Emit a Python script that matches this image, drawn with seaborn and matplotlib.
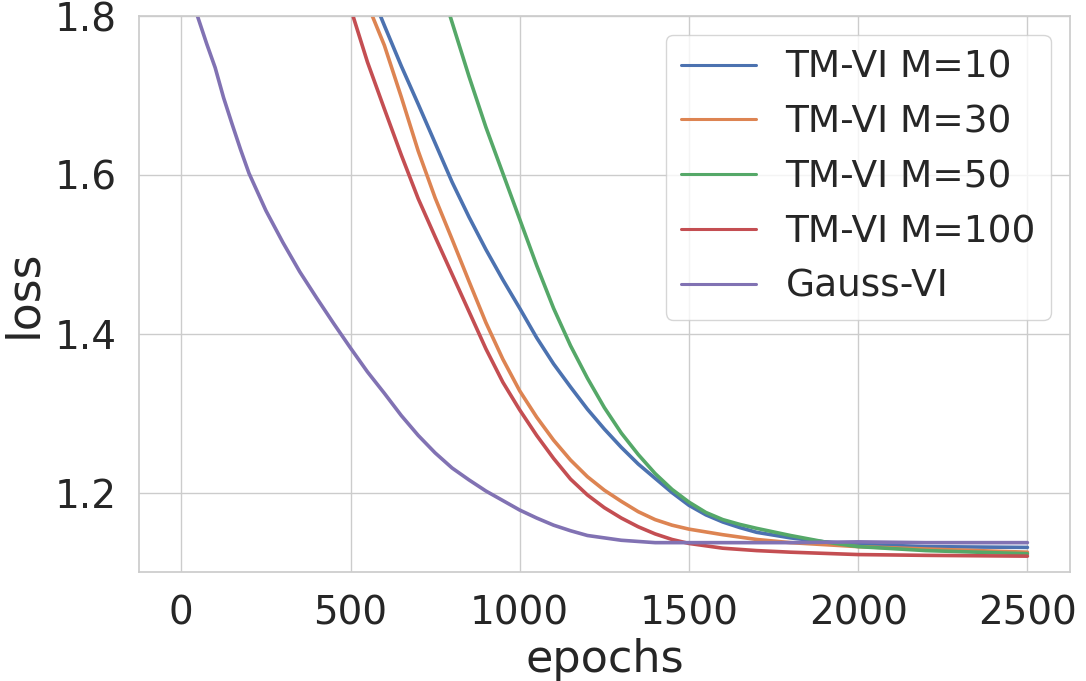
import pandas as pd
import matplotlib
matplotlib.use("Agg")
import matplotlib.pyplot as plt
import seaborn as sns

# ---- data (epoch, loss) ----
m10_epochs = [550, 600, 650, 700, 750, 800, 850, 900, 950, 1000, 1050, 1100, 1150, 1200, 1250,
              1300, 1350, 1400, 1450, 1500, 1550, 1600, 1650, 1700, 1800, 1900, 2000, 2200, 2500]
m10_loss = [1.84, 1.788, 1.737, 1.689, 1.640, 1.591, 1.547, 1.506, 1.468, 1.432, 1.395, 1.362, 1.333, 1.305, 1.28,
            1.257, 1.236, 1.218, 1.200, 1.184, 1.172, 1.163, 1.156, 1.150, 1.143, 1.138, 1.135, 1.132, 1.131]

m30_epochs = [500, 550, 600, 650, 700, 750, 800, 850, 900, 950, 1000, 1050, 1100, 1150, 1200, 1250,
              1300, 1350, 1400, 1450, 1500, 1600, 1700, 1800, 2000, 2200, 2500]
m30_loss = [1.88, 1.815, 1.763, 1.698, 1.630, 1.571, 1.519, 1.466, 1.414, 1.368, 1.328, 1.295, 1.266, 1.241,
            1.220, 1.203, 1.189, 1.176, 1.166, 1.159, 1.154, 1.147, 1.141, 1.137, 1.132, 1.129, 1.125]

m50_epochs = [750, 800, 850, 900, 950, 1000, 1050, 1100, 1150, 1200, 1250, 1300, 1350, 1400, 1450,
              1500, 1550, 1600, 1650, 1700, 1800, 1900, 2000, 2200, 2500]
m50_loss = [1.86, 1.792, 1.724, 1.660, 1.602, 1.544, 1.486, 1.432, 1.385, 1.344, 1.307, 1.275, 1.248, 1.224,
            1.204, 1.188, 1.175, 1.166, 1.160, 1.155, 1.146, 1.138, 1.132, 1.127, 1.123]

m100_epochs = [450, 500, 550, 600, 650, 700, 750, 800, 850, 900, 950, 1000, 1050, 1100, 1150, 1200, 1250,
               1300, 1350, 1400, 1450, 1500, 1600, 1700, 1800, 2000, 2200, 2500]
m100_loss = [1.87, 1.81, 1.742, 1.683, 1.625, 1.570, 1.522, 1.475, 1.428, 1.381, 1.339, 1.304, 1.272, 1.243,
             1.217, 1.197, 1.181, 1.168, 1.157, 1.148, 1.141, 1.136, 1.130, 1.127, 1.125, 1.122, 1.121, 1.120]

gauss_epochs = [0, 25, 50, 75, 100, 125, 150, 175, 200, 250, 300, 350, 400, 450, 500, 550, 600, 650,
                700, 750, 800, 850, 900, 950, 1000, 1050, 1100, 1150, 1200, 1300, 1400, 1600, 1800,
                2000, 2200, 2500]
gauss_loss = [1.85, 1.83, 1.797, 1.765, 1.735, 1.697, 1.664, 1.632, 1.602, 1.555, 1.515, 1.478, 1.445, 1.413,
              1.382, 1.352, 1.325, 1.297, 1.272, 1.250, 1.231, 1.216, 1.202, 1.19, 1.178, 1.168, 1.159,
              1.152, 1.146, 1.140, 1.137, 1.137, 1.137, 1.138, 1.137, 1.137]

series_names = ["TM-VI M=10", "TM-VI M=30", "TM-VI M=50", "TM-VI M=100", "Gauss-VI"]
series_epochs = [m10_epochs, m30_epochs, m50_epochs, m100_epochs, gauss_epochs]
series_loss = [m10_loss, m30_loss, m50_loss, m100_loss, gauss_loss]

rows = []
for name, ep, ls in zip(series_names, series_epochs, series_loss):
    for e, l in zip(ep, ls):
        rows.append({"epochs": e, "loss": l, "method": name})
df = pd.DataFrame(rows)

sns.set_theme(style="whitegrid", context="notebook")
plt.rcParams["font.family"] = ["DejaVu Sans"]

fig, ax = plt.subplots(figsize=(10.86, 6.81), dpi=100)
fig.subplots_adjust(left=0.128, right=0.985, top=0.9765, bottom=0.16)

sns.lineplot(data=df, x="epochs", y="loss", hue="method", hue_order=series_names,
             palette="deep", linewidth=2.6, ax=ax)

ax.set_ylim(1.1, 1.8)
ax.set_yticks([1.2, 1.4, 1.6, 1.8])
ax.set_xticks([0, 500, 1000, 1500, 2000, 2500])
ax.tick_params(axis="both", labelsize=28, pad=10)
ax.set_xlabel("epochs", fontsize=32, labelpad=4)
ax.set_ylabel("loss", fontsize=33, labelpad=6)

handles, labels = ax.get_legend_handles_labels()
leg = ax.legend(handles, labels, loc="upper right", fontsize=27, title=None)
for h in leg.get_lines():
    h.set_linewidth(2.2)

fig.savefig("out.png", dpi=100)
